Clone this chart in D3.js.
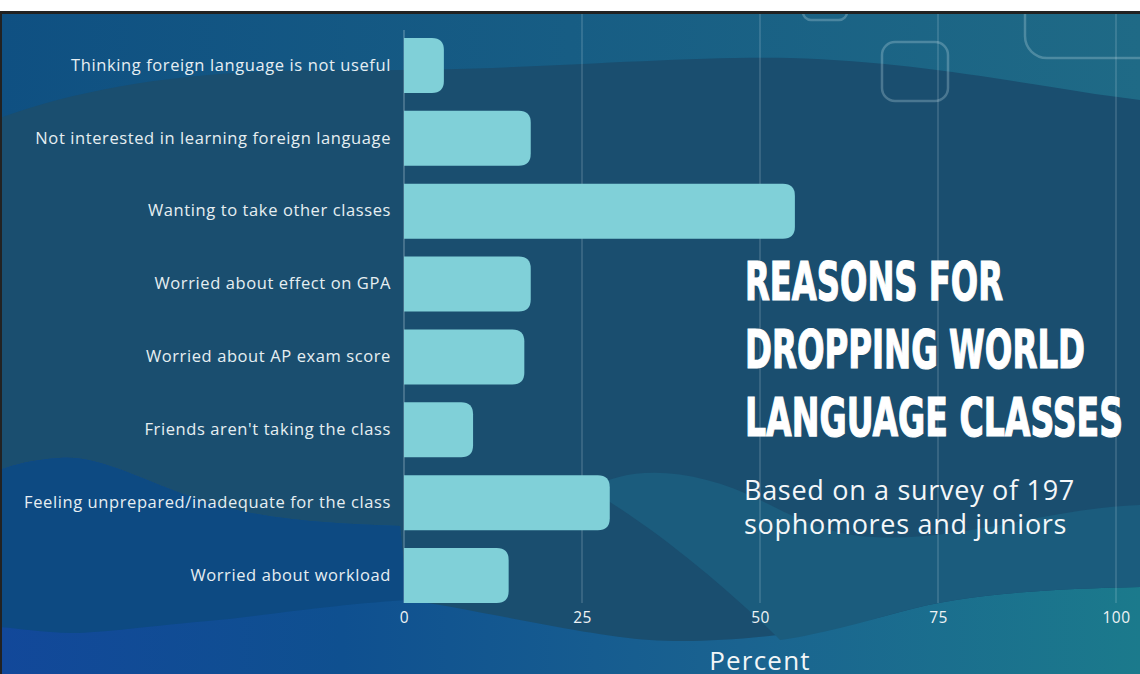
<!DOCTYPE html>
<html>
<head>
<meta charset="utf-8">
<script src="https://cdn.jsdelivr.net/npm/d3@7"></script>
<style>
  html, body { margin: 0; padding: 0; background: #fff; }
  svg { display: block; }
</style>
</head>
<body>
<div id="chart"></div>
<script>
// 数据
var reasons = [
  'Thinking foreign language is not useful',
  'Not interested in learning foreign language',
  'Wanting to take other classes',
  'Worried about effect on GPA',
  'Worried about AP exam score',
  "Friends aren't taking the class",
  'Feeling unprepared/inadequate for the class',
  'Worried about workload'
]
var percents = [5.6, 17.8, 54.9, 17.8, 16.9, 9.7, 28.9, 14.7]
var xTicks = [0, 25, 50, 75, 100]
var titleLines = ['REASONS FOR', 'DROPPING WORLD', 'LANGUAGE CLASSES']
var subtitleLines = ['Based on a survey of 197', 'sophomores and juniors']

var width = 1140
var height = 674
var margin = { top: 29, left: 404, right: 24, bottom: 62 }
var labelFont = "'Open Sans', 'Noto Sans', sans-serif"

var svg = d3.select('#chart').append('svg').attr('width', width).attr('height', height)
var defs = svg.append('defs')

var bg = defs.append('linearGradient').attr('id', 'bgGrad').attr('x1', 0).attr('x2', 1).attr('y1', 0).attr('y2', 0)
bg.append('stop').attr('offset', '0%').attr('stop-color', '#12489a')
bg.append('stop').attr('offset', '30%').attr('stop-color', '#0f5090')
bg.append('stop').attr('offset', '65%').attr('stop-color', '#1a6390')
bg.append('stop').attr('offset', '100%').attr('stop-color', '#1b7a8c')

var topGrad = defs.append('linearGradient').attr('id', 'topGrad').attr('x1', 0).attr('x2', 1).attr('y1', 0).attr('y2', 0)
topGrad.append('stop').attr('offset', '0%').attr('stop-color', '#0f5082')
topGrad.append('stop').attr('offset', '100%').attr('stop-color', '#1f6a86')

// 背景边框
svg.append('rect').attr('x', 0).attr('y', 11).attr('width', width).attr('height', height - 11).attr('fill', '#222')
var clip = defs.append('clipPath').attr('id', 'panel')
clip.append('rect').attr('x', 2).attr('y', 14).attr('width', width - 2).attr('height', height - 14)

var bgG = svg.append('g').attr('clip-path', 'url(#panel)')
bgG.append('rect').attr('x', 0).attr('y', 0).attr('width', width).attr('height', height).attr('fill', 'url(#bgGrad)')
bgG.append('rect').attr('x', 0).attr('y', 0).attr('width', width).attr('height', 160).attr('fill', 'url(#topGrad)')

// 深色波浪带
bgG.append('path')
  .attr('d', 'M0,118 C90,85 200,70 330,70 C520,72 660,56 790,58 C930,62 1040,88 1140,100 ' +
    'L1140,587 C1040,589 960,595 900,612 C830,632 720,645 650,640 C580,635 470,608 407,600 ' +
    'L400,526 C330,524 260,520 200,500 C140,480 100,455 60,458 C30,460 10,466 0,470 Z')
  .attr('fill', '#1a4e6f')

// 左下深蓝
bgG.append('path')
  .attr('d', 'M0,470 C10,466 30,460 60,458 C100,455 140,480 200,500 C260,520 330,524 400,526 ' +
    'L407,600 C330,605 260,616 218,620 C150,626 100,633 73,633 C40,632 15,628 0,627 Z')
  .attr('fill', '#0d4a82')

// 右侧中间山丘
bgG.append('path')
  .attr('d', 'M590,490 C630,462 700,470 760,500 C800,520 830,535 873,537 C960,542 1050,508 1140,505 ' +
    'L1140,587 C1040,589 960,595 900,612 C850,626 810,636 780,640 C740,600 660,530 590,490 Z')
  .attr('fill', '#1b5c7d')

// 圆角方框装饰
var deco = [
  { x: 803, y: -30, w: 44, h: 50, r: 8 },
  { x: 882, y: 42, w: 66, h: 59, r: 13 },
  { x: 1025, y: -40, w: 150, h: 98, r: 22 }
]
bgG.selectAll('rect.deco').data(deco).enter().append('rect')
  .attr('class', 'deco')
  .attr('x', function(d) { return d.x })
  .attr('y', function(d) { return d.y })
  .attr('width', function(d) { return d.w })
  .attr('height', function(d) { return d.h })
  .attr('rx', function(d) { return d.r })
  .attr('fill', 'none')
  .attr('stroke', 'rgba(200,225,235,0.28)')
  .attr('stroke-width', 2.5)

// 比例尺
var x = d3.scaleLinear().domain([0, 100]).range([margin.left, width - margin.right])
var y = d3.scaleBand().domain(reasons)
  .range([margin.top, margin.top + 583])
  .paddingInner(0.245).paddingOuter(0.1225)

var plotBottom = 603

// 网格线
var grid = svg.append('g')
grid.selectAll('line').data(xTicks).enter().append('line')
  .attr('x1', function(d) { return x(d) })
  .attr('x2', function(d) { return x(d) })
  .attr('y1', function(d) { return d === 0 ? 30 : 14 })
  .attr('y2', plotBottom)
  .attr('stroke', function(d) { return d === 0 ? 'rgba(220,235,240,0.45)' : 'rgba(220,235,240,0.3)' })
  .attr('stroke-width', 1)

// 柱子：右侧圆角
function barPath(d, i) {
  var x0 = x(0)
  var x1 = x(percents[i])
  var y0 = y(d)
  var h = y.bandwidth()
  var r = Math.min(12, (x1 - x0))
  return 'M' + x0 + ',' + y0 +
    'H' + (x1 - r) +
    'Q' + x1 + ',' + y0 + ' ' + x1 + ',' + (y0 + r) +
    'V' + (y0 + h - r) +
    'Q' + x1 + ',' + (y0 + h) + ' ' + (x1 - r) + ',' + (y0 + h) +
    'H' + x0 + 'Z'
}

svg.append('g').selectAll('path').data(reasons).enter().append('path')
  .attr('d', barPath)
  .attr('fill', '#80d0d8')

// y轴标签
var axisLeft = d3.axisLeft(y).tickSize(0).tickPadding(13)
var gy = svg.append('g').attr('transform', 'translate(' + margin.left + ',0)').call(axisLeft)
gy.select('.domain').remove()
gy.selectAll('text')
  .attr('fill', '#e6eef2')
  .style('font-family', labelFont)
  .style('font-size', '16.5px')
  .style('letter-spacing', '0.6px')

// x轴
var axisBottom = d3.axisBottom(x).tickValues(xTicks).tickSize(0).tickPadding(9)
var gx = svg.append('g').attr('transform', 'translate(0,' + plotBottom + ')').call(axisBottom)
gx.select('.domain').remove()
gx.selectAll('text')
  .attr('fill', '#eef3f5')
  .style('font-family', labelFont)
  .style('font-size', '15.5px')
  .style('letter-spacing', '0.5px')

svg.append('text')
  .attr('x', x(50))
  .attr('y', 670)
  .attr('text-anchor', 'middle')
  .attr('fill', '#f2f6f8')
  .style('font-family', labelFont)
  .style('font-size', '26px')
  .style('letter-spacing', '1.2px')
  .text('Percent')

// 标题
var titleWidths = [258, 340, 378]
svg.append('g').selectAll('text').data(titleLines).enter().append('text')
  .attr('x', 745)
  .attr('y', function(d, i) { return 300 + i * 68 })
  .attr('textLength', function(d, i) { return titleWidths[i] })
  .attr('lengthAdjust', 'spacingAndGlyphs')
  .attr('fill', '#ffffff')
  .attr('stroke', '#ffffff')
  .attr('stroke-width', 1.2)
  .style('font-family', "'Liberation Sans Narrow', 'DejaVu Sans Condensed', sans-serif")
  .style('font-weight', 'bold')
  .style('font-size', '54px')
  .text(function(d) { return d })

svg.append('g').selectAll('text').data(subtitleLines).enter().append('text')
  .attr('x', 744)
  .attr('y', function(d, i) { return 500 + i * 34 })
  .attr('fill', '#f4f7f9')
  .style('font-family', labelFont)
  .style('font-size', '27px')
  .style('letter-spacing', '0.7px')
  .text(function(d) { return d })
</script>
</body>
</html>
